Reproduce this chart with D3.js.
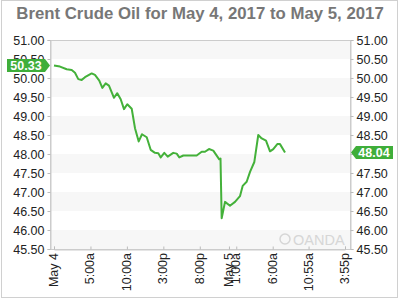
<!DOCTYPE html>
<html><head><meta charset="utf-8">
<script src="https://cdn.jsdelivr.net/npm/d3@7"></script>
<style>body{margin:0;background:#fff;} svg{display:block;font-family:"Liberation Sans",Arial,sans-serif;}</style>
</head><body><svg id="c" width="400" height="300"></svg>
<script>
const title = "Brent Crude Oil for May 4, 2017 to May 5, 2017";
const hours = [0,0.82,1.74,2.43,2.88,3.33,3.80,4.25,5.17,5.62,6.21,6.63,7.09,7.54,8.23,8.68,9.15,9.60,10.05,10.66,11.11,11.62,12.07,12.72,13.26,13.85,14.31,14.64,15.13,15.60,16.36,16.83,17.19,17.74,19.57,20.26,20.71,21.26,21.85,22.67,22.84,23.00,23.46,24.14,24.83,25.51,25.88,26.43,26.89,27.48,28.02,28.49,29.08,29.63,30.08,30.63,31.00,31.69];
const prices = [50.33,50.30,50.23,50.21,50.14,49.97,49.95,50.02,50.12,50.08,49.93,49.74,49.86,49.80,49.48,49.60,49.44,49.18,49.31,49.19,48.68,48.33,48.52,48.44,48.11,48.03,48.02,47.91,48.03,47.93,48.03,48.01,47.91,47.96,47.96,48.06,48.06,48.13,48.09,47.86,47.88,46.31,46.74,46.64,46.74,46.89,47.16,47.27,47.53,47.79,48.50,48.41,48.35,48.07,48.13,48.26,48.26,48.04];
const tickHours = [0,5,10,15,20,24,25,30,34.917,39.917];
const tickLabels = ["May 4","5:00a","10:00a","3:00p","8:00p","May 5","1:00a","6:00a","10:55a","3:55p"];
const yTicks = [45.5,46,46.5,47,47.5,48,48.5,49,49.5,50,50.5,51];
const openLabel = "50.33", lastLabel = "48.04";

const svg = d3.select("#c");
const L = 50, R = 350, T = 40, B = 249;
const x = d3.scaleLinear().domain([0, 39.917]).range([54, 345]);
const y = d3.scaleLinear().domain([45.5, 51]).range([B, T]);
const green = "#3fae3a";

svg.append("rect").attr("x",1.5).attr("y",0.5).attr("width",396).attr("height",297)
  .attr("fill","#fff").attr("stroke","#d0d0d0");

svg.append("text").attr("x",200).attr("y",18.5).attr("text-anchor","middle")
  .attr("font-size",16.8).attr("font-weight","bold").attr("fill","#777").text(title);

// bands
for (let i = 0; i < yTicks.length - 1; i++) {
  if (i % 2 === 0) {
    svg.append("rect").attr("x",L).attr("width",R-L)
      .attr("y",y(yTicks[i+1])).attr("height",y(yTicks[i])-y(yTicks[i+1]))
      .attr("fill","#f7f7f7");
  }
}

// watermark
const wm = svg.append("g").attr("fill","#d6d6d6");
wm.append("circle").attr("cx",285).attr("cy",239).attr("r",5).attr("fill","none").attr("stroke","#d6d6d6").attr("stroke-width",1.5);
wm.append("text").attr("x",293).attr("y",245).attr("font-size",14.5).text("OANDA");

// plot frame
svg.append("rect").attr("x",L+0.5).attr("y",T+0.5).attr("width",R-L).attr("height",B-T)
  .attr("fill","none").attr("stroke","#cccccc");

// y axes
const yl = svg.append("g").attr("transform",`translate(${L+0.5},0)`)
  .call(d3.axisLeft(y).tickValues(yTicks).tickFormat(d3.format(".2f")).tickSize(3).tickPadding(3));
const yr = svg.append("g").attr("transform",`translate(${R+0.5},0)`)
  .call(d3.axisRight(y).tickValues(yTicks).tickFormat(d3.format(".2f")).tickSize(3).tickPadding(3));
[yl, yr].forEach(g => {
  g.select(".domain").attr("stroke","#ccc");
  g.selectAll(".tick line").attr("stroke","#bbb");
  g.selectAll("text").attr("font-size",12.5).attr("fill","#222").attr("font-family","Liberation Sans, Arial, sans-serif");
});

// x axis
const xa = svg.append("g").attr("transform",`translate(0,${B+0.5})`)
  .call(d3.axisTop(x).tickValues(tickHours).tickFormat("").tickSize(3));
xa.select(".domain").attr("stroke","#ccc");
xa.selectAll(".tick line").attr("stroke","#bbb");
svg.append("g").selectAll("text").data(tickHours).join("text")
  .attr("transform",(d)=>`translate(${x(d)+4},253) rotate(-90)`)
  .attr("text-anchor","end").attr("font-size",12.5).attr("fill","#222")
  .text((d,i)=>tickLabels[i]);

// line
const data = hours.map((h,i)=>({h, v: prices[i]}));
svg.append("path").datum(data)
  .attr("fill","none").attr("stroke","#44b13a").attr("stroke-width",2)
  .attr("stroke-linejoin","round")
  .attr("d", d3.line().x(d=>x(d.h)).y(d=>y(d.v)));

// price labels
function label(side, val, txt) {
  const cy = y(val), h = 13;
  let p;
  if (side === "left") {
    const tip = L, bx0 = 7, bx1 = L - 5;
    p = `M${bx0},${cy-h/2} L${bx1},${cy-h/2} L${tip},${cy} L${bx1},${cy+h/2} L${bx0},${cy+h/2} Z`;
  } else {
    const tip = R + 1, bx0 = R + 6, bx1 = 393;
    p = `M${tip},${cy} L${bx0},${cy-h/2} L${bx1},${cy-h/2} L${bx1},${cy+h/2} L${bx0},${cy+h/2} Z`;
  }
  svg.append("path").attr("d",p).attr("fill",green);
  svg.append("text").attr("x", side==="left" ? 26 : 374).attr("y",cy+4.5)
    .attr("text-anchor","middle").attr("font-size",12.5).attr("font-weight","bold")
    .attr("fill","#fff").text(txt);
}
label("left", prices[0], openLabel);
label("right", prices[prices.length-1], lastLabel);
</script></body></html>
